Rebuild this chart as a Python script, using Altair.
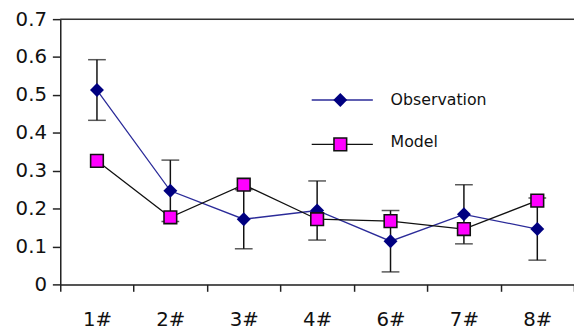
import altair as alt
import pandas as pd

cats = ["1#", "2#", "3#", "4#", "6#", "7#", "8#"]
obs = [0.513, 0.247, 0.172, 0.195, 0.114, 0.185, 0.146]
obs_err = [0.08, 0.081, 0.078, 0.078, 0.081, 0.078, 0.082]
model = [0.326, 0.177, 0.263, 0.172, 0.167, 0.146, 0.221]
y_ticks = [0, 0.1, 0.2, 0.3, 0.4, 0.5, 0.6, 0.7]

df = pd.DataFrame({"cat": cats, "obs": obs, "err": obs_err, "model": model})
df["lo"] = df["obs"] - df["err"]
df["hi"] = df["obs"] + df["err"]

FONT = "DejaVu Sans"
W, H = 521, 269

x = alt.X("cat:N", sort=cats, title=None,
          scale=alt.Scale(paddingInner=0, paddingOuter=0),
          axis=alt.Axis(labelAngle=0, tickBand="extent", labelFont=FONT, labelFontSize=20,
                        labelColor="#111", labelPadding=19, tickSize=7, tickColor="#222",
                        domainColor="#222", tickWidth=1.5, domainWidth=1.5, grid=False))
yscale = alt.Scale(domain=[0, 0.7], nice=False)
y_axis = alt.Axis(values=y_ticks, format="~g", labelFont=FONT,
                  labelFontSize=20, labelColor="#111", labelPadding=6, tickSize=8,
                  tickColor="#222", domainColor="#222", tickWidth=1.5, domainWidth=1.5,
                  grid=False, labelOverlap=False, labelFlush=False)


def Y(field):
    return alt.Y(field, scale=yscale, axis=y_axis, title=None)


base = alt.Chart(df)

obs_line = base.mark_line(color="#2b2b99", strokeWidth=1.3).encode(x=x, y=Y("obs:Q"))
model_line = base.mark_line(color="#111", strokeWidth=1.3).encode(x=x, y=Y("model:Q"))
err_rule = base.mark_rule(color="#111", strokeWidth=1.5).encode(x=x, y=Y("lo:Q"), y2="hi:Q")
cap_lo = base.mark_tick(color="#111", size=18, thickness=1.5).encode(x=x, y=Y("lo:Q"))
cap_hi = base.mark_tick(color="#111", size=18, thickness=1.5).encode(x=x, y=Y("hi:Q"))
obs_pts = base.mark_point(shape="diamond", filled=True, color="#000080", size=200,
                          opacity=1).encode(x=x, y=Y("obs:Q"))
model_pts = base.mark_point(shape="square", filled=True, fill="#ff00ff", stroke="#111",
                            strokeWidth=1.6, size=165, opacity=1).encode(x=x, y=Y("model:Q"))

top_df = pd.DataFrame({"top": [0.7]})
top_rule = alt.Chart(top_df).mark_rule(color="#333", strokeWidth=1.5).encode(y=Y("top:Q"))

# legend
leg_names = ["Observation", "Model"]
leg = alt.Chart(pd.DataFrame({"name": leg_names}))
leg_obs_line = leg.transform_filter("datum.name == 'Observation'").mark_rule(
    color="#2b2b99", strokeWidth=1.3).encode(x=alt.value(255), x2=alt.value(317), y=alt.value(82))
leg_obs_pt = leg.transform_filter("datum.name == 'Observation'").mark_point(
    shape="diamond", filled=True, color="#000080", size=200, opacity=1).encode(
    x=alt.value(284), y=alt.value(82))
leg_mod_line = leg.transform_filter("datum.name == 'Model'").mark_rule(
    color="#111", strokeWidth=1.3).encode(x=alt.value(255), x2=alt.value(317), y=alt.value(127))
leg_mod_pt = leg.transform_filter("datum.name == 'Model'").mark_point(
    shape="square", filled=True, fill="#ff00ff", stroke="#111", strokeWidth=1.6, size=165,
    opacity=1).encode(x=alt.value(284), y=alt.value(127))
leg_text_obs = leg.transform_filter("datum.name == 'Observation'").mark_text(
    align="left", baseline="middle", font=FONT, fontSize=16, color="#111").encode(
    x=alt.value(335), y=alt.value(82), text="name:N")
leg_text_mod = leg.transform_filter("datum.name == 'Model'").mark_text(
    align="left", baseline="middle", font=FONT, fontSize=16, color="#111").encode(
    x=alt.value(335), y=alt.value(125), text="name:N")

chart = alt.layer(
    obs_line, model_line, top_rule, err_rule, cap_lo, cap_hi, obs_pts, model_pts,
    leg_obs_line, leg_mod_line, leg_obs_pt, leg_mod_pt, leg_text_obs, leg_text_mod
).properties(
    width=W, height=H,
    autosize=alt.AutoSizeParams(type="none"),
    padding={"left": 53, "top": 9, "right": 0, "bottom": 48},
).configure_view(stroke=None).configure(background="white")

chart.save("out.html", embed_options={"renderer": "svg", "actions": False})
